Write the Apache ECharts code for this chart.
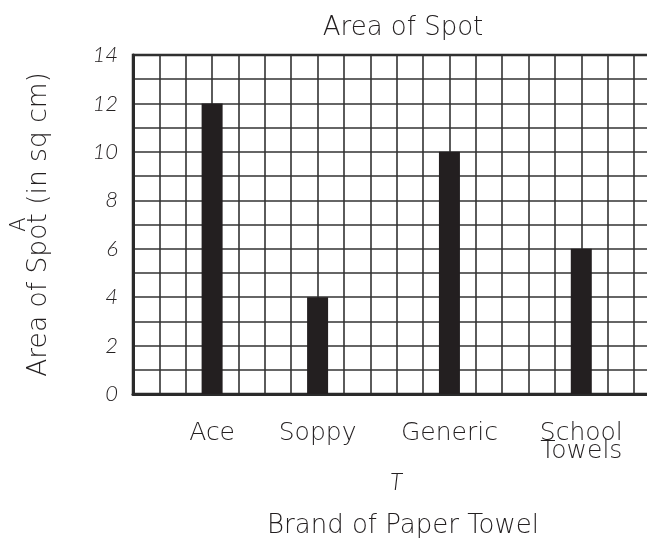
<!DOCTYPE html>
<html>
<head>
<meta charset="utf-8">
<script src="https://cdn.jsdelivr.net/npm/echarts@6/dist/echarts.min.js"></script>
<style>
html,body{margin:0;padding:0;background:#fff;}
#c{width:647px;height:553px;}
</style>
</head>
<body>
<div id="c"></div>
<script>
// Data
var brands = ['Ace', 'Soppy', 'Generic', 'School\nTowels'];
var brandSlot = [3, 7, 12, 17];          // ruled column on which each bar stands
var areas = [12, 4, 10, 6];              // Area of Spot (sq cm)
var yTicks = [0, 2, 4, 6, 8, 10, 12, 14];

var FONT = '"DejaVu Sans"';
var W = 200;
var ink = '#231f20';

var chart = echarts.init(document.getElementById('c'), null, {renderer: 'canvas'});
var barData = brands.map(function (b, i) { return [brandSlot[i], areas[i]]; });

chart.setOption({
  animation: false,
  backgroundColor: '#fff',
  title: [
    {text: 'Area of Spot', left: 398, top: 10, textAlign: 'center',
     textStyle: {fontFamily: FONT, fontWeight: W, fontSize: 26, color: ink}},
    {text: 'T', left: 391, top: 466, textAlign: 'center',
     textStyle: {fontFamily: 'Lato', fontWeight: 300, fontStyle: 'italic', fontSize: 23, color: ink}},
    {text: 'Brand of Paper Towel', left: 398, top: 508, textAlign: 'center',
     textStyle: {fontFamily: FONT, fontWeight: W, fontSize: 26, color: ink}}
  ],
  grid: {left: 133, top: 55, width: 527.4, height: 339, show: true, outerBoundsMode: 'none',
         containLabel: false,
         borderColor: '#2a2a2a', borderWidth: 2.5, backgroundColor: 'transparent'},
  xAxis: {
    type: 'value', min: 0, max: 20, interval: 1,
    axisLine: {show: true, lineStyle: {color: '#2a2a2a', width: 3}},
    axisTick: {show: false},
    splitLine: {show: true, lineStyle: {color: '#333', width: 1.6}},
    axisLabel: {
      margin: 30, fontFamily: FONT, fontWeight: W, fontSize: 25, color: ink, lineHeight: 18,
      formatter: function (v) { var i = brandSlot.indexOf(v); return i >= 0 ? brands[i] : ''; }
    }
  },
  yAxis: {
    type: 'value', min: 0, max: 14, interval: 1,
    name: '{a|A}\n{n|Area of Spot (in sq cm)}', nameLocation: 'middle', nameRotate: 90, nameGap: 80,
    nameTextStyle: {
      color: ink,
      rich: {
        a: {fontFamily: FONT, fontWeight: W, fontSize: 21, lineHeight: 12, color: ink},
        n: {fontFamily: FONT, fontWeight: W, fontSize: 26.5, lineHeight: 27, color: ink}
      }
    },
    axisLine: {show: true, lineStyle: {color: '#2a2a2a', width: 3}},
    axisTick: {show: false},
    splitLine: {show: true, lineStyle: {color: '#333', width: 1.6}},
    axisLabel: {
      margin: 15, fontFamily: 'Lato', fontWeight: 300, fontStyle: 'italic', fontSize: 22, color: ink,
      formatter: function (v) { return yTicks.indexOf(v) >= 0 ? String(v) : ''; }
    }
  },
  series: [{
    type: 'bar', data: barData, barWidth: 21,
    itemStyle: {color: ink}
  }]
});
</script>
</body>
</html>
